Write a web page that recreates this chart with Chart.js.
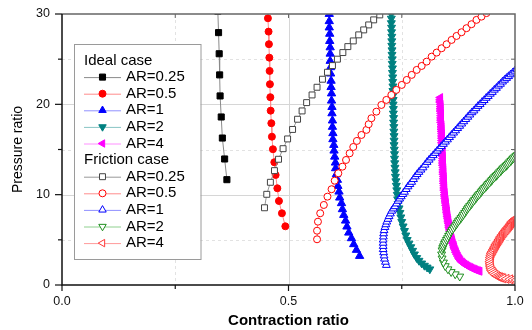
<!DOCTYPE html>
<html><head><meta charset="utf-8">
<script src="https://cdn.jsdelivr.net/npm/chart.js@4.4.1/dist/chart.umd.min.js"></script>
<style>html,body{margin:0;padding:0;background:#fff}#wrap{width:532px;height:330px}</style>
</head><body><div id="wrap"><canvas id="c" width="532" height="330"></canvas></div>
<script>
// ---- data ----
const xTitle = 'Contraction ratio';
const yTitle = 'Pressure ratio';
const xTickValues = [0, 0.25, 0.5, 0.75, 1];
const xTickLabels = ['0.0', '', '0.5', '', '1.0'];
const yTickValues = [0, 5, 10, 15, 20, 25, 30];
const yTickLabels = ['0', '', '10', '', '20', '', '30'];
const groupHeaders = ['Ideal case', 'Friction case'];
const arLabels = ['AR=0.25', 'AR=0.5', 'AR=1', 'AR=2', 'AR=4'];

const idealAR025 = [[0.344,30.3],[0.3456,27.94],[0.347,25.6],[0.348,23.26],[0.349,20.93],[0.3515,18.6],[0.354,16.27],[0.359,13.95],[0.364,11.66]];
const idealAR05 = [[0.4546,29.53],[0.456,28.05],[0.4568,26.66],[0.4577,25.17],[0.4583,23.70],[0.459,22.23],[0.4599,20.79],[0.4606,19.30],[0.4621,17.91],[0.4634,16.42],[0.4656,15.03],[0.4687,13.59],[0.4716,12.18],[0.4754,10.71],[0.4789,9.30],[0.4855,7.94],[0.493,6.50]];
const idealAR1 = [[0.590,30.0],[0.590,29.2],[0.590,28.5],[0.591,27.8],[0.591,27.0],[0.592,26.3],[0.592,25.6],[0.592,24.8],[0.593,24.1],[0.593,23.4],[0.594,22.6],[0.594,21.9],[0.595,21.2],[0.595,20.4],[0.596,19.7],[0.596,19.0],[0.597,18.2],[0.597,17.5],[0.598,16.8],[0.598,16.13],[0.600,15.5],[0.6005,14.87],[0.602,14.2],[0.6036,13.54],[0.604,12.92],[0.6058,12.26],[0.608,11.63],[0.609,10.96],[0.6115,10.33],[0.613,9.67],[0.617,9.05],[0.619,8.38],[0.622,7.75],[0.626,7.12],[0.629,6.46],[0.633,5.79],[0.639,5.17],[0.644,4.51],[0.650,3.88],[0.657,3.21]];
const idealAR2 = [[0.727,30.0],[0.727,29.5],[0.727,29.0],[0.7275,28.5],[0.7275,28.0],[0.728,27.5],[0.728,27.0],[0.728,26.5],[0.7285,26.0],[0.7285,25.5],[0.729,25.0],[0.729,24.5],[0.7295,24.0],[0.7295,23.5],[0.730,23.0],[0.730,22.5],[0.7305,22.0],[0.7305,21.5],[0.731,21.0],[0.731,20.5],[0.731,20.0],[0.7315,19.5],[0.7315,19.0],[0.732,18.5],[0.732,18.0],[0.7325,17.5],[0.7325,17.0],[0.733,16.5],[0.733,16.0],[0.733,15.5],[0.7335,15.0],[0.734,14.5],[0.734,14.0],[0.7345,13.5],[0.735,13.0],[0.7355,12.5],[0.736,12.0],[0.737,11.5],[0.738,11.0],[0.739,10.5],[0.740,10.0],[0.741,9.5],[0.742,9.0],[0.744,8.5],[0.746,8.0],[0.748,7.5],[0.750,7.0],[0.753,6.5],[0.756,6.0],[0.759,5.5],[0.762,5.0],[0.766,4.6],[0.770,4.2],[0.774,3.8],[0.778,3.4],[0.783,3.0],[0.788,2.7],[0.794,2.4],[0.800,2.15],[0.806,1.95],[0.812,1.75]];
const idealAR4 = [[0.835,20.75],[0.835,20.5],[0.835,20.25],[0.836,20.0],[0.836,19.75],[0.836,19.5],[0.836,19.25],[0.837,19.0],[0.837,18.75],[0.837,18.5],[0.837,18.25],[0.837,18.0],[0.838,17.75],[0.838,17.5],[0.838,17.25],[0.838,17.0],[0.839,16.75],[0.839,16.5],[0.839,16.25],[0.839,16.0],[0.839,15.75],[0.840,15.5],[0.840,15.25],[0.840,15.0],[0.840,14.75],[0.840,14.5],[0.841,14.25],[0.841,14.0],[0.841,13.75],[0.841,13.5],[0.841,13.25],[0.842,13.0],[0.842,12.75],[0.842,12.5],[0.842,12.25],[0.843,12.0],[0.843,11.75],[0.843,11.5],[0.843,11.25],[0.844,11.0],[0.844,10.75],[0.844,10.5],[0.845,10.25],[0.845,10.0],[0.846,9.8],[0.846,9.6],[0.847,9.4],[0.847,9.2],[0.848,9.0],[0.848,8.8],[0.849,8.6],[0.849,8.4],[0.850,8.2],[0.850,8.0],[0.851,7.8],[0.851,7.6],[0.852,7.4],[0.853,7.2],[0.853,7.0],[0.854,6.8],[0.855,6.6],[0.855,6.4],[0.856,6.2],[0.857,6.0],[0.858,5.8],[0.859,5.6],[0.859,5.4],[0.860,5.2],[0.861,5.0],[0.862,4.8],[0.863,4.6],[0.865,4.4],[0.866,4.2],[0.867,4.0],[0.869,3.8],[0.870,3.6],[0.872,3.4],[0.874,3.2],[0.876,3.0],[0.878,2.85],[0.880,2.7],[0.883,2.55],[0.886,2.42],[0.889,2.3],[0.892,2.2],[0.895,2.1],[0.898,2.02],[0.901,1.95],[0.904,1.88],[0.907,1.8],[0.910,1.74],[0.913,1.68],[0.916,1.62],[0.919,1.57],[0.922,1.52]];

const frictionAR025 = [[0.7015,29.9],[0.688,29.35],[0.677,28.79],[0.666,28.24],[0.655,27.69],[0.643,27.02],[0.631,26.39],[0.620,25.73],[0.608,25.0],[0.597,24.29],[0.586,23.55],[0.575,22.78],[0.563,21.89],[0.552,21.04],[0.540,20.19],[0.530,19.27],[0.520,18.35],[0.509,17.22],[0.498,16.17],[0.488,15.09],[0.478,13.92],[0.469,12.66],[0.460,11.37],[0.452,10.04],[0.447,8.55]];
const frictionAR05 = [[0.563,5.06],[0.563,6.01],[0.565,7.01],[0.570,7.94],[0.578,8.86],[0.586,9.78],[0.595,10.6],[0.602,11.55],[0.610,12.37],[0.619,13.1],[0.627,13.84],[0.635,14.58],[0.643,15.28],[0.651,15.95],[0.661,16.61],[0.672,17.17],[0.677,17.8],[0.683,18.46],[0.694,19.19],[0.705,19.93],[0.716,20.49],[0.727,21.04],[0.738,21.6],[0.750,22.15],[0.761,22.7],[0.772,23.26],[0.783,23.81],[0.794,24.25],[0.805,24.73],[0.816,25.28],[0.827,25.73],[0.838,26.21],[0.849,26.65],[0.860,27.13],[0.871,27.57],[0.882,27.98],[0.893,28.43],[0.904,28.87],[0.915,29.35],[0.926,29.71],[0.937,30.1]];
const frictionAR1 = [[0.716,2.2],[0.714,2.55],[0.712,2.9],[0.711,3.25],[0.710,3.6],[0.709,3.95],[0.709,4.3],[0.709,4.65],[0.709,5.0],[0.7095,5.35],[0.710,5.7],[0.711,6.05],[0.713,6.4],[0.715,6.7],[0.717,7.0],[0.7195,7.3],[0.722,7.6],[0.725,7.9],[0.728,8.2],[0.7315,8.45],[0.735,8.7],[0.7385,9.0],[0.742,9.3],[0.7455,9.55],[0.749,9.8],[0.7525,10.05],[0.756,10.3],[0.760,10.6],[0.764,10.9],[0.768,11.15],[0.772,11.4],[0.776,11.7],[0.780,12.0],[0.784,12.25],[0.788,12.5],[0.7925,12.75],[0.797,13.0],[0.8015,13.3],[0.806,13.6],[0.8105,13.85],[0.815,14.1],[0.8195,14.35],[0.824,14.6],[0.8285,14.85],[0.833,15.1],[0.8375,15.35],[0.842,15.6],[0.8465,15.85],[0.851,16.1],[0.8555,16.35],[0.860,16.6],[0.8645,16.85],[0.869,17.1],[0.8735,17.35],[0.878,17.6],[0.8825,17.85],[0.887,18.1],[0.8915,18.35],[0.896,18.6],[0.9005,18.85],[0.905,19.1],[0.9095,19.3],[0.914,19.55],[0.9185,19.8],[0.923,20.0],[0.9275,20.25],[0.932,20.45],[0.9365,20.7],[0.941,20.9],[0.9455,21.15],[0.950,21.35],[0.9545,21.6],[0.959,21.8],[0.9635,22.05],[0.968,22.25],[0.9725,22.5],[0.977,22.7],[0.9815,22.9],[0.986,23.1],[0.9905,23.3],[0.995,23.5],[0.9995,23.7],[1.004,23.9]];
const frictionAR2 = [[0.878,0.95],[0.868,1.2],[0.859,1.45],[0.852,1.75],[0.846,2.1],[0.842,2.5],[0.839,2.95],[0.838,3.4],[0.839,3.85],[0.8405,4.1],[0.842,4.3],[0.844,4.55],[0.846,4.75],[0.8485,5.0],[0.851,5.2],[0.8535,5.45],[0.856,5.65],[0.8585,5.9],[0.861,6.1],[0.864,6.3],[0.867,6.5],[0.870,6.7],[0.8725,6.9],[0.875,7.08],[0.878,7.25],[0.881,7.43],[0.8835,7.6],[0.886,7.8],[0.889,8.0],[0.892,8.2],[0.8945,8.4],[0.897,8.58],[0.900,8.75],[0.903,8.93],[0.9055,9.1],[0.908,9.28],[0.911,9.45],[0.914,9.63],[0.9165,9.8],[0.919,9.95],[0.922,10.1],[0.925,10.28],[0.9275,10.45],[0.930,10.6],[0.933,10.75],[0.936,10.9],[0.9385,11.05],[0.941,11.2],[0.944,11.35],[0.947,11.5],[0.9495,11.65],[0.952,11.8],[0.955,11.95],[0.958,12.08],[0.9605,12.2],[0.963,12.35],[0.966,12.5],[0.969,12.65],[0.9715,12.8],[0.974,12.93],[0.977,13.05],[0.980,13.18],[0.9825,13.3],[0.985,13.45],[0.988,13.6],[0.991,13.75],[0.9935,13.9],[0.996,14.03],[0.999,14.15],[1.002,14.28],[1.005,14.4]];
const frictionAR4 = [[1.001,7.35],[0.998,7.2],[0.9955,7.07],[0.993,6.95],[0.991,6.8],[0.989,6.64],[0.9865,6.5],[0.984,6.35],[0.9815,6.2],[0.979,6.05],[0.9765,5.88],[0.974,5.72],[0.9715,5.53],[0.969,5.35],[0.967,5.18],[0.965,5.0],[0.9625,4.81],[0.960,4.62],[0.958,4.44],[0.956,4.25],[0.954,4.07],[0.952,3.88],[0.950,3.7],[0.948,3.51],[0.947,3.28],[0.946,3.05],[0.9455,2.82],[0.945,2.58],[0.9455,2.34],[0.946,2.1],[0.947,1.88],[0.948,1.66],[0.9505,1.48],[0.953,1.3],[0.9565,1.15],[0.960,1.0],[0.9635,0.92],[0.967,0.85],[0.9705,0.8],[0.974,0.74],[0.981,0.68],[0.989,0.63],[0.996,0.58],[1.003,0.55]];

// ---- datasets ----
const FONT = "'Liberation Sans', Arial, sans-serif";
function mk(label, data, style, o) {
  return Object.assign({
    label, data: data.map(p => ({x: p[0], y: p[1]})),
    type: 'scatter', showLine: true, borderWidth: 1, fill: false, tension: 0,
    pointStyle: style, pointBorderWidth: 1, pointRotation: 0
  }, o);
}
const datasets = [
  mk(arLabels[0], idealAR025, 'rect', {order:1, borderColor:'#8a8a8a', pointBackgroundColor:'#000', pointBorderColor:'#000', pointRadius:4.3}),
  mk(arLabels[1], idealAR05, 'circle', {order:1, borderColor:'#ff8c8c', pointBackgroundColor:'#ff0000', pointBorderColor:'#ff0000', pointRadius:3.5}),
  mk(arLabels[2], idealAR1, 'triangle', {order:1, borderColor:'#9090ff', pointBackgroundColor:'#0000ff', pointBorderColor:'#0000ff', pointRadius:4.8}),
  mk(arLabels[3], idealAR2, 'triangle', {order:1, borderColor:'#88c4c4', pointBackgroundColor:'#008080', pointBorderColor:'#008080', pointRadius:4.6, pointRotation:180}),
  mk(arLabels[4], idealAR4, 'triangle', {order:1, borderColor:'#ff90ff', pointBackgroundColor:'#ff00ff', pointBorderColor:'#ff00ff', pointRadius:4.6, pointRotation:270}),
  mk(arLabels[0], frictionAR025, 'rect', {order:0, borderColor:'#999999', pointBackgroundColor:'#ffffff', pointBorderColor:'#444444', pointRadius:4.2}),
  mk(arLabels[1], frictionAR05, 'circle', {order:0, borderColor:'#ff8c8c', pointBackgroundColor:'#ffffff', pointBorderColor:'#ff0000', pointRadius:3.5}),
  mk(arLabels[2], frictionAR1, 'triangle', {order:0, borderColor:'#9090ff', pointBackgroundColor:'#ffffff', pointBorderColor:'#0000ff', pointRadius:4.5}),
  mk(arLabels[3], frictionAR2, 'triangle', {order:0, borderColor:'#8fd08f', pointBackgroundColor:'#ffffff', pointBorderColor:'#1f8f1f', pointRadius:4.6, pointRotation:180}),
  mk(arLabels[4], frictionAR4, 'triangle', {order:0, borderColor:'#ff9a9a', pointBackgroundColor:'#ffffff', pointBorderColor:'#ff3a3a', pointRadius:5.2, pointRotation:270})
];

function drawMarker(ctx, style, r, rot, x, y, fill, stroke, lw) {
  ctx.save();
  ctx.fillStyle = fill; ctx.strokeStyle = stroke; ctx.lineWidth = lw; ctx.setLineDash([]);
  ctx.beginPath();
  if (style === 'rect') {
    const s = Math.SQRT1_2 * r; ctx.rect(x - s, y - s, 2 * s, 2 * s);
  } else if (style === 'circle') {
    ctx.arc(x, y, r, 0, Math.PI * 2);
  } else {
    let a = rot * Math.PI / 180;
    ctx.moveTo(x + Math.sin(a) * r, y - Math.cos(a) * r);
    a += 2 * Math.PI / 3; ctx.lineTo(x + Math.sin(a) * r, y - Math.cos(a) * r);
    a += 2 * Math.PI / 3; ctx.lineTo(x + Math.sin(a) * r, y - Math.cos(a) * r);
    ctx.closePath();
  }
  ctx.fill(); ctx.stroke(); ctx.restore();
}

const framePlugin = {
  id: 'framePlugin',
  beforeDatasetsDraw(chart) {
    const {ctx, chartArea: a, scales: {x, y}} = chart;
    ctx.save(); ctx.lineWidth = 1;
    [0.25, 0.5, 0.75].forEach(v => {
      const major = v === 0.5;
      const px = Math.round(x.getPixelForValue(v)) + 0.5;
      ctx.strokeStyle = major ? '#d6d6d6' : '#e2e2e2'; ctx.setLineDash(major ? [] : [3, 3]);
      ctx.beginPath(); ctx.moveTo(px, a.top); ctx.lineTo(px, a.bottom); ctx.stroke();
    });
    [5, 10, 15, 20, 25].forEach(v => {
      const major = v % 10 === 0;
      const py = Math.round(y.getPixelForValue(v)) + 0.5;
      ctx.strokeStyle = major ? '#d6d6d6' : '#e2e2e2'; ctx.setLineDash(major ? [] : [3, 3]);
      ctx.beginPath(); ctx.moveTo(a.left, py); ctx.lineTo(a.right, py); ctx.stroke();
    });
    ctx.restore();
  },
  afterDatasetsDraw(chart) {
    const {ctx, chartArea: a, scales: {x, y}} = chart;
    ctx.save(); ctx.setLineDash([]);
    ctx.strokeStyle = '#666'; ctx.lineWidth = 1.5;
    ctx.beginPath(); ctx.moveTo(a.left, a.top); ctx.lineTo(a.right, a.top); ctx.lineTo(a.right, a.bottom); ctx.stroke();
    ctx.lineWidth = 1;
    yTickValues.forEach(v => { if (v > 0 && v < 30) { const py = y.getPixelForValue(v); ctx.beginPath(); ctx.moveTo(a.right, py); ctx.lineTo(a.right - 4, py); ctx.stroke(); } });
    xTickValues.forEach(v => { if (v > 0 && v < 1) { const px = x.getPixelForValue(v); ctx.beginPath(); ctx.moveTo(px, a.top); ctx.lineTo(px, a.top + 4); ctx.stroke(); } });
    ctx.strokeStyle = '#111'; ctx.lineWidth = 1.5;
    ctx.beginPath(); ctx.moveTo(a.left, a.top); ctx.lineTo(a.left, a.bottom); ctx.lineTo(a.right, a.bottom); ctx.stroke();
    ctx.lineWidth = 1.2;
    yTickValues.forEach((v, i) => { const py = y.getPixelForValue(v); const L = yTickLabels[i] ? 7 : 4; ctx.beginPath(); ctx.moveTo(a.left, py); ctx.lineTo(a.left - L, py); ctx.stroke(); });
    xTickValues.forEach((v, i) => { const px = x.getPixelForValue(v); const L = xTickLabels[i] ? 6 : 4; ctx.beginPath(); ctx.moveTo(px, a.bottom); ctx.lineTo(px, a.bottom + L); ctx.stroke(); });
    ctx.restore();
  },
  afterDraw(chart) {
    const {ctx, chartArea: a} = chart;
    const bx = a.left + 12, by = a.top + 30, bw = 126.5, bh = 215;
    ctx.save();
    ctx.fillStyle = '#fff'; ctx.fillRect(bx, by, bw, bh);
    ctx.strokeStyle = '#9a9a9a'; ctx.lineWidth = 1; ctx.setLineDash([]);
    ctx.strokeRect(Math.round(bx) + 0.5, Math.round(by) + 0.5, bw, bh);
    const rows = [groupHeaders[0], 0, 1, 2, 3, 4, groupHeaders[1], 5, 6, 7, 8, 9];
    const rowY0 = by + 16.5, rowH = 16.6;
    ctx.font = '15px ' + FONT; ctx.textBaseline = 'middle'; ctx.fillStyle = '#000'; ctx.textAlign = 'left';
    rows.forEach((r, i) => {
      const yy = rowY0 + i * rowH;
      if (typeof r === 'string') { ctx.fillStyle = '#000'; ctx.fillText(r, bx + 10, yy); return; }
      const d = chart.data.datasets[r];
      ctx.strokeStyle = d.borderColor; ctx.lineWidth = 1;
      ctx.beginPath(); ctx.moveTo(bx + 10, yy + 0.5); ctx.lineTo(bx + 47, yy + 0.5); ctx.stroke();
      drawMarker(ctx, d.pointStyle, Math.min(d.pointRadius, 4.3), d.pointRotation || 0, bx + 28.5, yy, d.pointBackgroundColor, d.pointBorderColor, 1);
      ctx.fillStyle = '#000'; ctx.fillText(d.label, bx + 52, yy);
    });
    ctx.restore();
  }
};

new Chart(document.getElementById('c'), {
  type: 'scatter',
  data: { datasets },
  options: {
    responsive: false, animation: false, events: [],
    layout: { padding: { top: 14, right: 17, left: 0, bottom: 0 } },
    plugins: { legend: { display: false }, tooltip: { enabled: false } },
    scales: {
      x: {
        type: 'linear', min: 0, max: 1,
        afterBuildTicks(s) { s.ticks = xTickValues.map(v => ({ value: v })); },
        afterFit(s) { s.height = 45; s.paddingLeft = 0; s.paddingRight = 0; },
        ticks: { autoSkip: false, maxRotation: 0, padding: 9, color: '#111', font: { family: FONT, size: 12.5 },
                 callback: (v, i) => xTickLabels[i] },
        grid: { display: false, drawTicks: false }, border: { display: false },
        title: { display: true, text: xTitle, color: '#000', font: { family: FONT, size: 15, weight: 'bold' }, padding: { top: 0, bottom: 0 } }
      },
      y: {
        type: 'linear', min: 0, max: 30,
        afterBuildTicks(s) { s.ticks = yTickValues.map(v => ({ value: v })); },
        afterFit(s) { s.width = 62; s.paddingTop = 0; s.paddingBottom = 0; },
        ticks: { autoSkip: false, padding: 12, color: '#111', font: { family: FONT, size: 12.5 },
                 callback: (v, i) => yTickLabels[i] },
        grid: { display: false, drawTicks: false }, border: { display: false },
        title: { display: true, text: yTitle, color: '#000', font: { family: FONT, size: 14 }, padding: { top: 10, bottom: 0 } }
      }
    }
  },
  plugins: [framePlugin]
});
</script>
</body></html>
